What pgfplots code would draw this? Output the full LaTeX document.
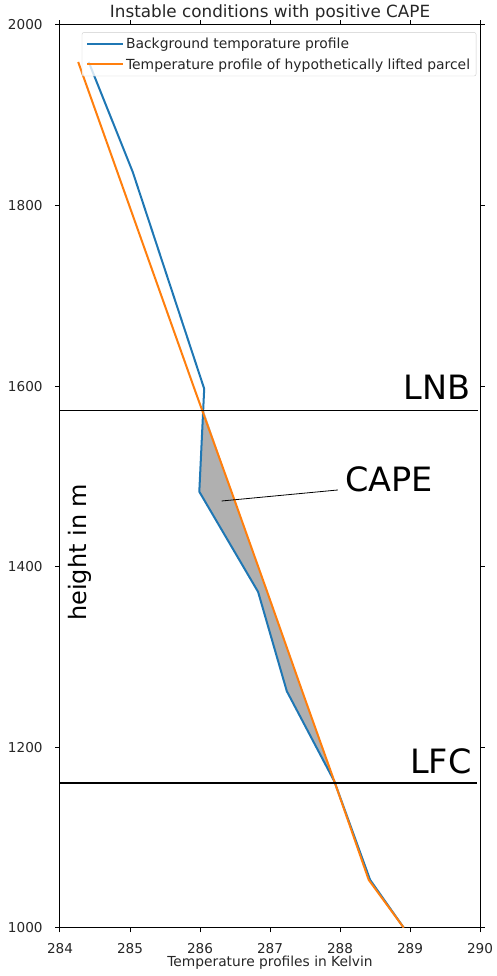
\documentclass[border=0pt]{standalone}
\usepackage{pgfplots}
\pgfplotsset{compat=1.18}
\usepackage{fontspec}
\setmainfont{DejaVu Sans}
\definecolor{mplblue}{HTML}{1F77B4}
\definecolor{mplorange}{HTML}{FF7F0E}
\begin{document}
\begin{tikzpicture}
\begin{axis}[
  at={(0pt,0pt)}, anchor=south west,
  scale only axis, width=420pt, height=902.7pt,
  xmin=284, xmax=290, ymin=1000, ymax=2000,
  xtick={284,285,...,290}, ytick={1000,1200,...,2000},
  tick align=outside, major tick length=4.7pt,
  tick style={black, line width=1pt},
  axis line style={black, line width=1pt},
  /pgf/number format/assume math mode=true,
  /pgf/number format/1000 sep={},
  ticklabel style={font=\fontsize{13.6}{16}\selectfont, text=black!85},
  xticklabel style={anchor=base, inner sep=0pt, yshift=-20.8pt},
  yticklabel style={anchor=east, inner sep=0pt, xshift=-12.5pt},
  title={Instable conditions with positive CAPE},
  every axis title/.style={font=\fontsize{16.8}{19}\selectfont, at={(axis description cs:0.5,1)}, anchor=base, yshift=7pt, inner sep=0pt, text=black!85},
  xlabel={Temperature profiles in Kelvin},
  xlabel style={font=\fontsize{13.8}{16}\selectfont, at={(axis description cs:0.5,0)}, anchor=base, yshift=-38.5pt, inner sep=0pt, text=black!85},
  legend style={at={(0.052,0.992)}, anchor=north west, draw=black!20, rounded corners=2pt, fill=white, fill opacity=0.8, text opacity=1, font=\fontsize{13.9}{16}\selectfont, text=black!85, row sep=4.5pt, inner xsep=4pt, inner ysep=3.5pt},
  legend cell align=left,
  legend image code/.code={\draw[#1] (0pt,0pt) -- (28pt,0pt); \path (0pt,0pt) -- (36pt,0pt);},
  line join=round,
]
\addplot[fill=black!31, draw=white!80!black, line width=0.6pt, forget plot] coordinates {
  (287.92,1162) (287.46,1262) (286.96,1372) (286.45,1483) (286.05,1573)
  (285.99,1483) (286.83,1372) (287.24,1262) (287.92,1162)} -- cycle;
\addplot[mplblue, line width=2pt] coordinates {
  (288.91,1000) (288.43,1053) (287.92,1162) (287.24,1262) (286.83,1372)
  (285.99,1483) (286.06,1597) (285.04,1837) (284.41,1959)};
\addlegendentry{Background temporature profile}
\addplot[mplorange, line width=2pt] coordinates {
  (288.91,1000) (288.41,1053) (287.92,1162) (287.46,1262) (286.96,1372)
  (286.45,1483) (285.92,1597) (284.82,1837) (284.26,1959)};
\addlegendentry{Temperature profile of hypothetically lifted parcel}
\addplot[black, line width=1.6pt, forget plot] coordinates {(284,1573) (289.97,1573)};
\addplot[black, line width=1.6pt, forget plot] coordinates {(284,1160.6) (289.96,1160.6)};
\addplot[black, line width=0.8pt, forget plot] coordinates {(286.31,1472.7) (287.97,1484.9)};
\node[anchor=base east, inner sep=0pt, font=\fontsize{33.5}{40}\selectfont] at (axis cs:289.87,1584.6) {LNB};
\node[anchor=base east, inner sep=0pt, font=\fontsize{33.5}{40}\selectfont] at (axis cs:289.88,1171) {LFC};
\node[anchor=base west, inner sep=0pt, font=\fontsize{33.5}{40}\selectfont] at (axis cs:288.07,1483) {CAPE};
\node[rotate=90, anchor=base, inner sep=0pt, font=\fontsize{24}{28}\selectfont] at (axis cs:284.38,1416) {height in m};
\end{axis}
\pgfresetboundingbox
\path (-60pt,-48.3pt) rectangle (437pt,927.7pt);
\end{tikzpicture}
\end{document}
